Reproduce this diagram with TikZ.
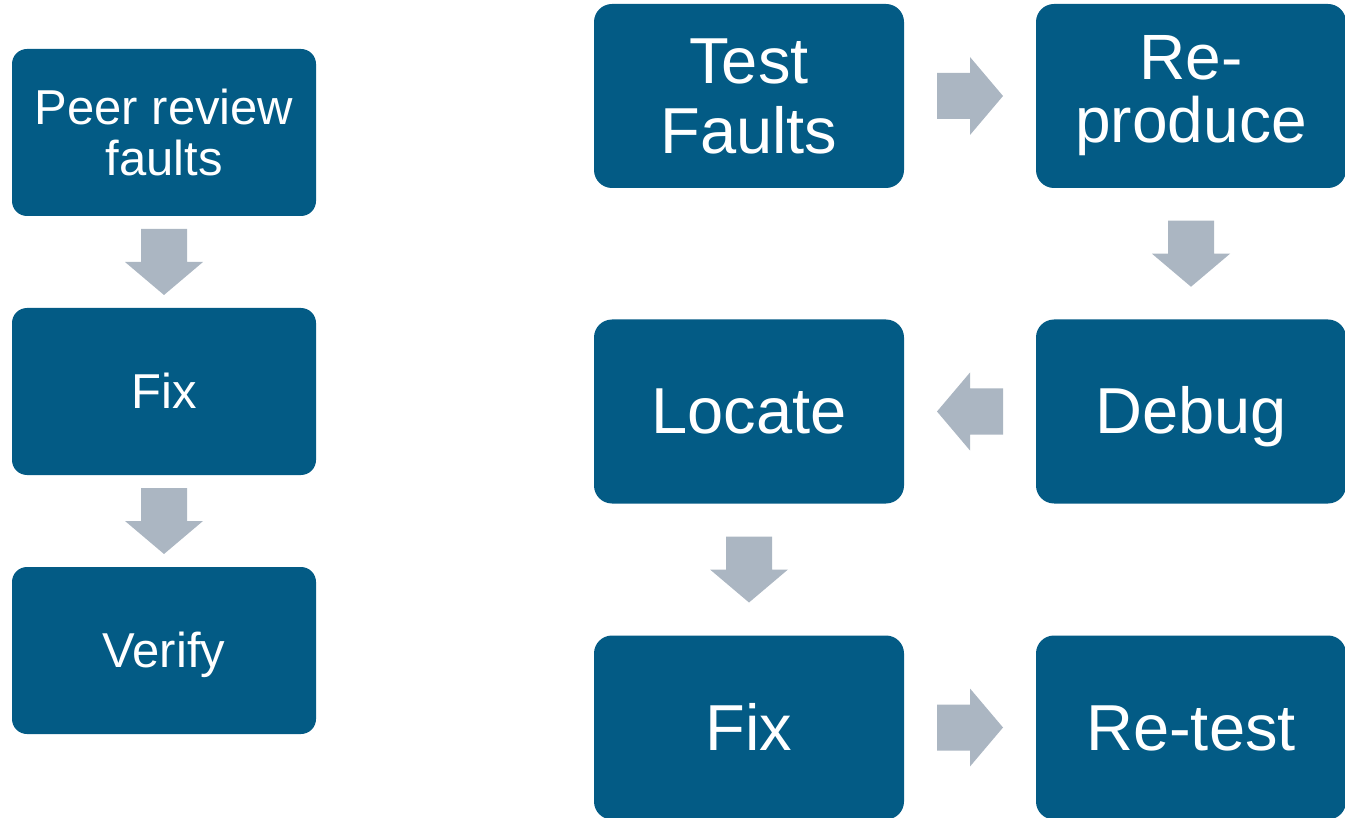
\documentclass[tikz,border=0pt]{standalone}
\usepackage{fontspec}
\setmainfont{Liberation Sans}
\usetikzlibrary{calc}
\definecolor{boxblue}{RGB}{3,91,133}
\definecolor{arrowgray}{RGB}{171,182,194}
\tikzset{
  % block arrow pointing right, centred on the origin
  blockarrow/.pic={
    \fill[arrowgray] (-33,-23) -- (0,-23) -- (0,-39) -- (33,0) -- (0,39) -- (0,23) -- (-33,23) -- cycle;
  },
  stagebox/.style={rectangle, fill=boxblue, text=white, inner sep=0pt, align=center},
  smallbox/.style={stagebox, rounded corners=15pt, minimum width=304pt, minimum height=167pt,
    font=\fontsize{49}{51}\selectfont},
  bigbox/.style={stagebox, rounded corners=18pt, minimum width=310pt, minimum height=184pt,
    font=\fontsize{65}{70}\selectfont},
  smallline/.style={text height=44.3pt, text depth=10.4pt},
  bigline/.style={text height=58.8pt, text depth=13.8pt}
}
\begin{document}
\begin{tikzpicture}[x=1pt,y=-1pt]
\useasboundingbox (0,0) rectangle (1345,818);

% peer review chain
\node[smallbox] (p1) at (164,132.5) {Peer review\\faults};
\node[smallbox, smallline] (p2) at (164,391.5) {Fix};
\node[smallbox, smallline] (p3) at (164,650.5) {Verify};

\pic[rotate=-90] at ($(p1.south)!0.5!(p2.north)$) {blockarrow};
\pic[rotate=-90] at ($(p2.south)!0.5!(p3.north)$) {blockarrow};

% testing chain
\node[bigbox] (tf) at (749,96) {Test\\Faults};
\node[bigbox, font=\fontsize{64}{63}\selectfont] (rp) at (1191,96) {Re-\\produce};
\node[bigbox, bigline] (db) at (1191,411.5) {Debug};
\node[bigbox, bigline] (lc) at (749,411.5) {Locate};
\node[bigbox, bigline] (fx) at (749,727.5) {Fix};
\node[bigbox, bigline] (rt) at (1191,727.5) {Re-test};

\pic at ($(tf.east)!0.5!(rp.west)$) {blockarrow};
\pic[rotate=-90] at ($(rp.south)!0.5!(db.north)$) {blockarrow};
\pic[rotate=180] at ($(db.west)!0.5!(lc.east)$) {blockarrow};
\pic[rotate=-90] at ($(lc.south)!0.5!(fx.north)$) {blockarrow};
\pic at ($(fx.east)!0.5!(rt.west)$) {blockarrow};
\end{tikzpicture}
\end{document}
